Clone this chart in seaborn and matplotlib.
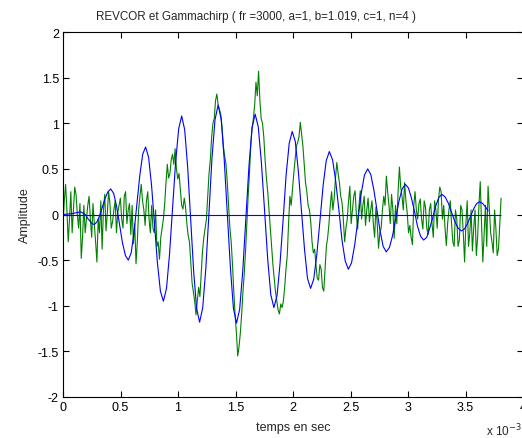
import numpy as np
import matplotlib
matplotlib.use("Agg")
import matplotlib.pyplot as plt
import seaborn as sns

# ---------------- data (time in ms) ----------------
FS_KHZ = 88.2  # sampling rate of the REVCOR signal (samples per ms)

revcor = [
    -0.10, 0.15, 0.33, 0.05, -0.30, -0.05, 0.25, -0.20, 0.05, 0.30, 0.22, 0.00, -0.15, 0.12, -0.48, -0.25, 0.10, -0.20, -0.05, 0.10,
    0.20, -0.05, -0.25, 0.12, -0.10, -0.30, -0.52, -0.05, -0.20, 0.15, -0.38, 0.05, 0.22, -0.18, 0.02, 0.25, 0.12, -0.15, -0.08, 0.05,
    0.15, -0.20, 0.02, 0.10, 0.18, -0.05, -0.15, 0.20, 0.25, -0.10, 0.05, 0.12, -0.22, 0.10, -0.32, -0.10, -0.54, -0.30, 0.05, 0.20,
    0.33, 0.15, 0.05, -0.12, 0.15, 0.25, -0.05, -0.20, 0.10, -0.15, -0.20, 0.05, -0.35, -0.30, -0.49, -0.25, -0.15, -0.05, 0.12, 0.35,
    0.55, 0.40, 0.45, 0.60, 0.66, 0.55, 0.72, 0.50, 0.39, 0.45, 0.28, 0.10, 0.06, 0.18, 0.08, -0.10, -0.23, -0.30, -0.52, -0.75,
    -0.85, -0.95, -1.10, -0.95, -0.80, -0.90, -0.65, -0.40, -0.25, -0.15, -0.05, 0.20, 0.45, 0.60, 0.85, 1.00, 1.05, 1.25, 1.32, 1.20,
    1.15, 1.10, 0.95, 0.75, 0.64, 0.55, 0.35, 0.10, -0.15, -0.30, -0.55, -0.85, -1.10, -1.30, -1.55, -1.45, -1.30, -1.10, -0.85, -0.65,
    -0.40, -0.10, 0.20, 0.45, 0.75, 0.95, 1.05, 1.20, 1.45, 1.30, 1.57, 1.25, 1.05, 1.00, 0.85, 0.60, 0.40, 0.25, 0.05, -0.15,
    -0.35, -0.55, -0.70, -0.85, -0.95, -1.05, -1.09, -0.98, -1.02, -0.95, -0.80, -0.60, -0.45, -0.10, 0.20, 0.10, 0.28, 0.45, 0.60, 0.75,
    0.79, 0.85, 1.01, 0.88, 0.75, 0.55, 0.35, 0.25, 0.10, 0.05, -0.08, -0.30, -0.42, -0.38, -0.55, -0.70, -0.72, -0.55, -0.60, -0.80,
    -0.84, -0.60, -0.35, -0.25, -0.10, 0.10, 0.25, 0.05, 0.18, 0.40, 0.57, 0.45, 0.35, 0.20, 0.13, -0.05, -0.30, -0.15, -0.05, 0.15,
    0.31, -0.10, 0.05, 0.20, 0.26, 0.00, -0.16, 0.10, 0.26, -0.05, 0.10, 0.20, -0.12, 0.05, 0.18, -0.08, 0.05, 0.15, -0.10, -0.25,
    0.08, -0.10, -0.37, -0.20, -0.15, 0.05, 0.20, 0.10, 0.42, 0.25, 0.10, -0.10, 0.22, 0.05, -0.26, 0.10, -0.10, 0.25, 0.52, 0.30,
    0.20, 0.05, 0.35, 0.15, 0.02, -0.20, -0.12, -0.25, -0.33, 0.10, 0.25, 0.05, -0.05, 0.12, 0.17, -0.05, -0.16, 0.15, 0.08, -0.15,
    -0.22, 0.05, 0.12, -0.10, -0.25, 0.15, 0.05, -0.15, 0.17, 0.30, 0.25, -0.05, 0.10, -0.15, -0.34, -0.10, 0.05, 0.15, -0.10, -0.30,
    -0.35, 0.05, -0.05, -0.35, -0.28, 0.10, 0.05, -0.20, -0.52, -0.10, 0.15, -0.35, -0.20, 0.05, -0.40, -0.15, 0.05, -0.45, -0.25, 0.10,
    0.36, -0.10, -0.52, -0.20, 0.10, -0.35, 0.31, 0.05, -0.20, -0.30, -0.42, 0.05, -0.15, -0.45, -0.38, -0.10,
    0.18,
]
revcor_t = np.arange(len(revcor)) / FS_KHZ

gc_t = [
    0.000, 0.080, 0.154, 0.193, 0.213, 0.252, 0.272,
    0.296, 0.320, 0.344, 0.367, 0.391, 0.415,
    0.441, 0.466, 0.492, 0.517, 0.543, 0.568,
    0.593, 0.618, 0.643, 0.668, 0.693, 0.718,
    0.744, 0.770, 0.796, 0.821, 0.847, 0.873,
    0.900, 0.926, 0.953, 0.979, 1.006, 1.032,
    1.058, 1.084, 1.110, 1.136, 1.162, 1.188,
    1.215, 1.242, 1.269, 1.295, 1.322, 1.349,
    1.376, 1.402, 1.429, 1.456, 1.482, 1.509,
    1.536, 1.563, 1.590, 1.617, 1.644, 1.671,
    1.698, 1.725, 1.753, 1.780, 1.807, 1.834,
    1.861, 1.887, 1.914, 1.940, 1.967, 1.993,
    2.020, 2.046, 2.073, 2.100, 2.126, 2.153,
    2.180, 2.207, 2.235, 2.262, 2.289, 2.316,
    2.344, 2.371, 2.399, 2.426, 2.454, 2.481,
    2.509, 2.537, 2.565, 2.593, 2.621, 2.649,
    2.676, 2.703, 2.730, 2.757, 2.784, 2.811,
    2.839, 2.866, 2.894, 2.922, 2.949, 2.977,
    3.004, 3.030, 3.057, 3.083, 3.110, 3.136,
    3.163, 3.189, 3.216, 3.243, 3.269, 3.296,
    3.324, 3.352, 3.380, 3.408, 3.436, 3.464,
    3.491, 3.517, 3.544, 3.570, 3.597, 3.623,
    3.650, 3.676, 3.696,
]
gammachirp = [
    0.00, 0.01, 0.03, 0.00, -0.04, -0.10, -0.11,
    -0.08, -0.01, 0.09, 0.18, 0.25, 0.28,
    0.23, 0.09, -0.11, -0.31, -0.45, -0.50,
    -0.42, -0.19, 0.12, 0.43, 0.66, 0.74,
    0.63, 0.32, -0.11, -0.53, -0.84, -0.95,
    -0.81, -0.44, 0.07, 0.57, 0.94, 1.08,
    0.93, 0.52, -0.05, -0.62, -1.03, -1.18,
    -1.02, -0.59, 0.01, 0.61, 1.04, 1.20,
    1.04, 0.60, 0.01, -0.59, -1.03, -1.19,
    -1.04, -0.62, -0.05, 0.53, 0.95, 1.10,
    0.96, 0.57, 0.04, -0.49, -0.88, -1.02,
    -0.89, -0.54, -0.06, 0.43, 0.78, 0.91,
    0.80, 0.48, 0.05, -0.38, -0.70, -0.81,
    -0.71, -0.44, -0.06, 0.32, 0.59, 0.69,
    0.60, 0.37, 0.05, -0.28, -0.51, -0.60,
    -0.53, -0.33, -0.05, 0.23, 0.43, 0.50,
    0.44, 0.27, 0.05, -0.18, -0.35, -0.41,
    -0.36, -0.23, -0.04, 0.15, 0.28, 0.33,
    0.29, 0.18, 0.03, -0.13, -0.24, -0.28,
    -0.25, -0.15, -0.03, 0.10, 0.19, 0.22,
    0.19, 0.12, 0.02, -0.08, -0.15, -0.18,
    -0.16, -0.10, -0.02, 0.06, 0.12, 0.14,
    0.12, 0.08, 0.04,
]

x_ticks = [0, 0.5, 1, 1.5, 2, 2.5, 3, 3.5, 4]
x_ticklabels = ["0", "0.5", "1", "1.5", "2", "2.5", "3", "3.5", "4"]
y_ticks = [-2, -1.5, -1, -0.5, 0, 0.5, 1, 1.5, 2]
y_ticklabels = ["-2", "-1.5", "-1", "-0.5", "0", "0.5", "1", "1.5", "2"]

TITLE = "REVCOR et Gammachirp ( fr =3000, a=1, b=1.019, c=1, n=4 )"

# ---------------- style ----------------
sns.set_style("ticks")
plt.rcParams["font.family"] = ["Liberation Sans", "DejaVu Sans"]
plt.rcParams["axes.unicode_minus"] = False

W, H = 522, 439
fig = plt.figure(figsize=(W / 100, H / 100), dpi=100, facecolor="white")
ax = fig.add_axes([63 / W, 41 / H, 460 / W, 365 / H])
ax.set_facecolor("white")

green = (0.0, 0.5, 0.0)
blue = (0.0, 0.0, 1.0)

sns.lineplot(x=revcor_t, y=revcor, ax=ax, color=green, lw=0.8,
             estimator=None, sort=False)
sns.lineplot(x=gc_t, y=gammachirp, ax=ax, color=blue, lw=0.8,
             estimator=None, sort=False)
ax.hlines(0, revcor_t[0], revcor_t[-1], color=blue, lw=0.8)

ax.set_xlim(0, 4)
ax.set_ylim(-2, 2)
ax.set_xticks(x_ticks)
ax.set_xticklabels(x_ticklabels)
ax.set_yticks(y_ticks)
ax.set_yticklabels(y_ticklabels)
ax.tick_params(direction="in", length=4, width=0.8, top=True, right=True,
               labelsize=9, colors="black", pad=3)
for s in ax.spines.values():
    s.set_visible(True)
    s.set_linewidth(0.8)
    s.set_color("black")

ax.set_xlabel("temps en sec", fontsize=9, labelpad=6)
ax.set_ylabel("Amplitude", fontsize=9, labelpad=5)
fig.text(256 / W, 1 - 17 / H, TITLE, ha="center", va="center", fontsize=8.4)
fig.text(486 / W, 1 - 431 / H, "x 10$^{-3}$", ha="left", va="center",
         fontsize=8.5)

fig.savefig("out.png", dpi=100, facecolor="white")
